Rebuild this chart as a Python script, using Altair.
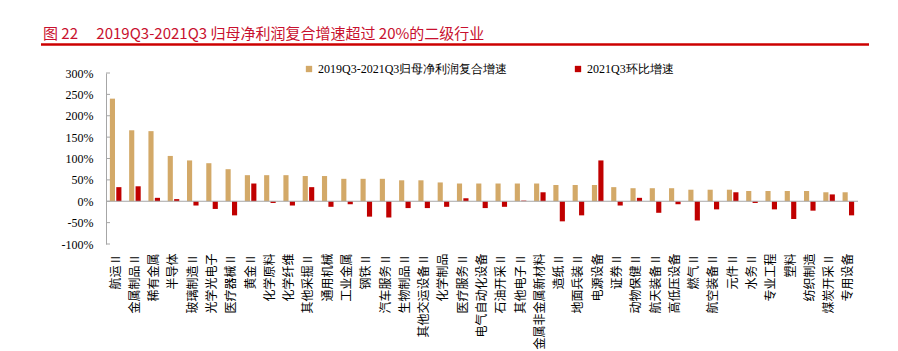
import altair as alt
import pandas as pd

categories = [
    "航运Ⅱ", "金属制品Ⅱ", "稀有金属", "半导体", "玻璃制造Ⅱ", "光学光电子", "医疗器械Ⅱ",
    "黄金Ⅱ", "化学原料", "化学纤维", "其他采掘Ⅱ", "通用机械", "工业金属", "钢铁Ⅱ",
    "汽车服务Ⅱ", "生物制品Ⅱ", "其他交运设备Ⅱ", "化学制品", "医疗服务Ⅱ", "电气自动化设备",
    "石油开采Ⅱ", "其他电子Ⅱ", "金属非金属新材料", "造纸Ⅱ", "地面兵装Ⅱ", "电源设备",
    "证券Ⅱ", "动物保健Ⅱ", "航天装备Ⅱ", "高低压设备", "燃气Ⅱ", "航空装备Ⅱ", "元件Ⅱ",
    "水务Ⅱ", "专业工程", "塑料", "纺织制造", "煤炭开采Ⅱ", "专用设备",
]
series_names = ["2019Q3-2021Q3归母净利润复合增速", "2021Q3环比增速"]
cagr = [240, 166, 164, 106, 95.5, 89, 75, 61, 61, 61, 59, 59, 52.5, 52.5, 52.5, 49, 49,
        44, 41.5, 41.5, 41.5, 41.5, 41.5, 38, 38, 38, 33, 30.5, 30.5, 30.5, 27, 27, 27,
        24, 24, 24, 24, 21, 21]
qoq = [33, 35, 8, 5, -10, -18, -33, 41.5, -4, -10, 33, -13, -7, -36, -38, -16, -16,
       -13, 7, -16, -13, 1.5, 21, -47, -33, 95.5, -10, 8, -27, -7, -45, -19, 21, -4,
       -19, -41.5, -22, 16, -33]
y_ticks = [-100, -50, 0, 50, 100, 150, 200, 250, 300]
title_text = "图 22\u2003\u00a02019Q3-2021Q3 归母净利润复合增速超过 20%的二级行业"

rows = []
for i, c in enumerate(categories):
    rows.append({"cat": c, "series": series_names[0], "value": cagr[i]})
    rows.append({"cat": c, "series": series_names[1], "value": qoq[i]})
df = pd.DataFrame(rows)
tick_df = pd.DataFrame({"value": y_ticks})
zero_df = pd.DataFrame({"value": [0]})
one = pd.DataFrame({"a": [0]})

W, H = 752, 171
TAN = "#D3A968"
RED = "#C00000"
GREY = "#A6A6A6"

y_scale = alt.Scale(domain=[-100, 300], nice=False)
y_axis = alt.Axis(values=y_ticks, labelExpr="datum.value + '%'", title=None, grid=False,
                  ticks=False, domainColor=GREY, labelFont="Liberation Serif",
                  labelFontSize=12, labelColor="#000000", labelPadding=13,
                  labelOverlap=False)
y_enc = alt.Y("value:Q", scale=y_scale, axis=y_axis)

bars = alt.Chart(df).mark_bar().encode(
    x=alt.X("cat:N", sort=categories,
            scale=alt.Scale(paddingInner=0.4, paddingOuter=0.2),
            axis=alt.Axis(title=None, labelAngle=-90, labelFont="Noto Sans CJK SC",
                          labelFontSize=12, labelColor="#000000", ticks=False,
                          domain=False, labelPadding=9, labelOverlap=False)),
    xOffset=alt.XOffset("series:N", sort=series_names, scale=alt.Scale(paddingInner=0.2)),
    y=y_enc,
    color=alt.Color("series:N", sort=series_names,
                    scale=alt.Scale(domain=series_names, range=[TAN, RED]),
                    legend=alt.Legend(title=None, orient="none", legendX=197, legendY=-10,
                                      direction="horizontal", symbolType="square",
                                      symbolSize=40, symbolStrokeWidth=0,
                                      labelFont="Liberation Serif", labelFontSize=12,
                                      labelColor="#000000", columnPadding=64,
                                      labelOffset=3, labelLimit=400)),
)

zero = alt.Chart(zero_df).mark_rule(color=GREY, strokeWidth=1).encode(y=y_enc)

ticks = alt.Chart(tick_df).mark_rule(color=GREY, strokeWidth=1).encode(
    y=y_enc, x=alt.value(0), x2=alt.value(4))

underline = alt.Chart(one).mark_rule(color="#CC0000", strokeWidth=2.6).encode(
    x=alt.value(-65), x2=alt.value(763), y=alt.value(-28.5))

chart = alt.layer(bars, zero, ticks, underline).properties(
    width=W, height=H,
    title=alt.TitleParams(text=title_text, anchor="start", color="#C8102E",
                          font="Noto Sans CJK SC", fontSize=15, fontWeight="normal",
                          dx=-63, dy=-1, offset=0, frame="group"),
    autosize=alt.AutoSizeParams(type="none"),
    padding={"left": 106, "top": 73, "right": 40, "bottom": 107},
    background="white",
).configure_view(strokeWidth=0)

chart.save("out.html", embed_options={"renderer": "svg", "actions": False})
